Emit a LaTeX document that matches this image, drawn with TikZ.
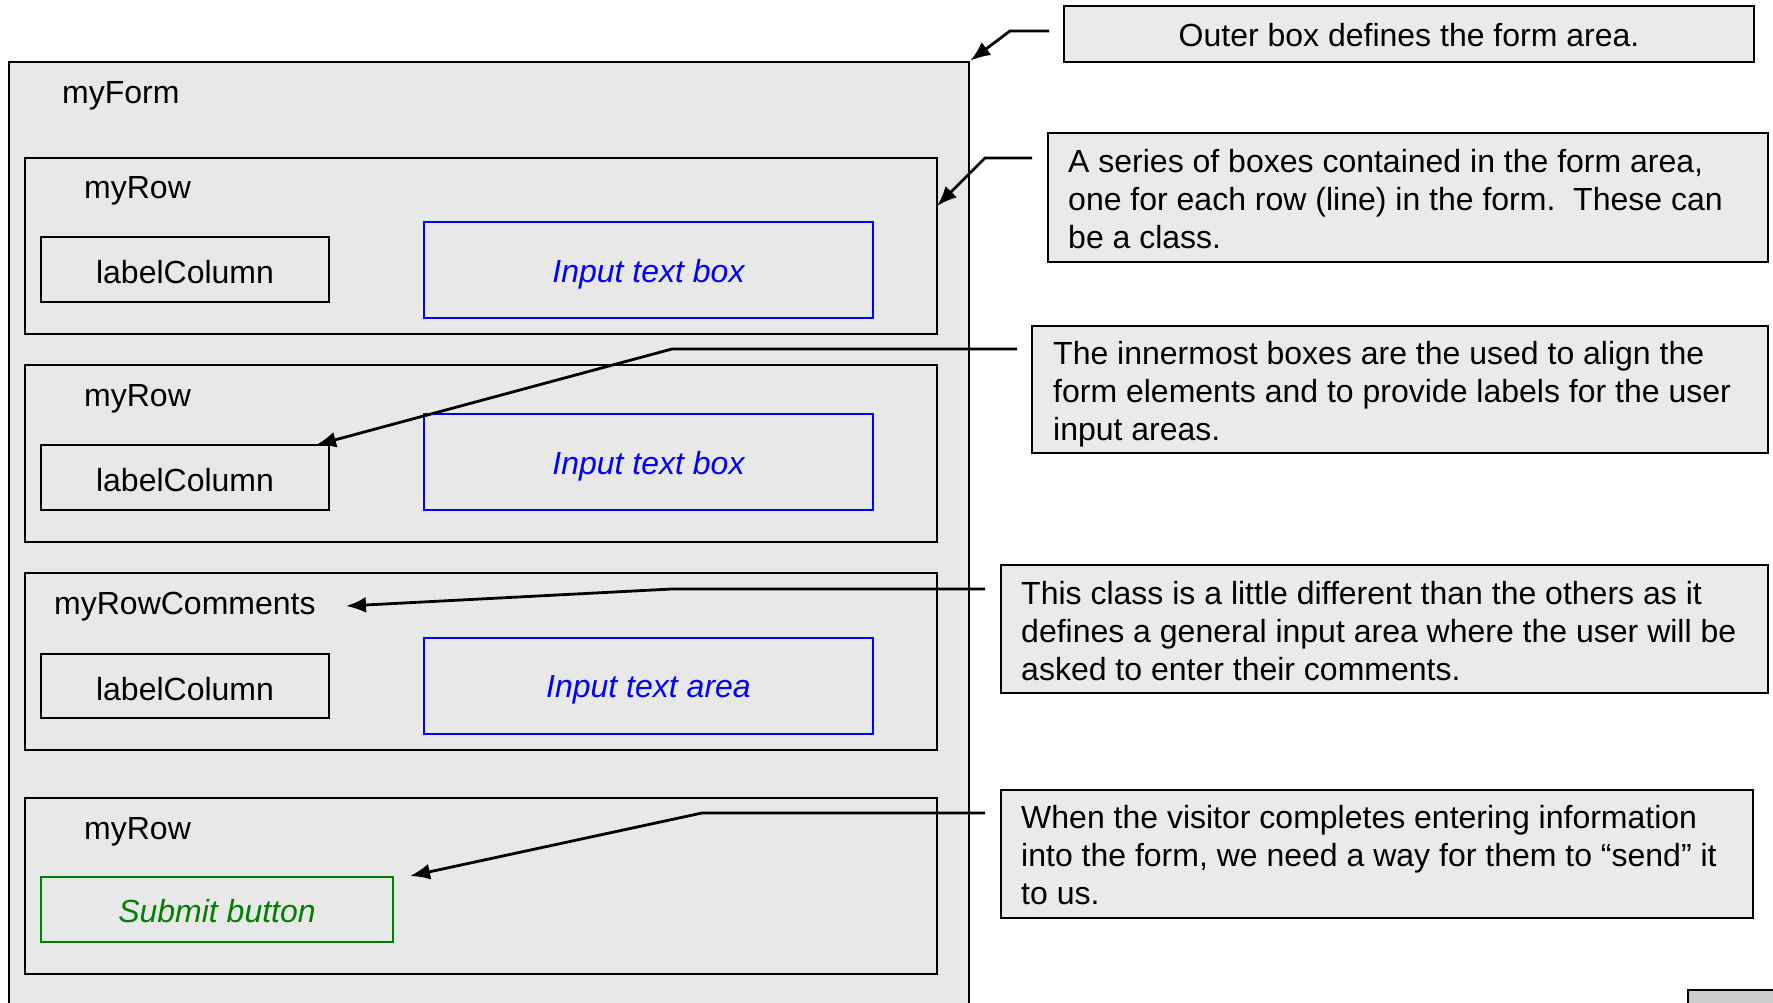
\documentclass[tikz,border=0pt]{standalone}
\usepackage{fontspec}
\setmainfont{Liberation Sans}
\usetikzlibrary{arrows.meta,fit}
\definecolor{panel}{HTML}{E8E8E8}
\definecolor{notefill}{HTML}{EAEAEA}
\definecolor{inputblue}{HTML}{0000FF}
\definecolor{btngreen}{HTML}{008000}
\definecolor{cornerfill}{HTML}{CCCCCC}

\begin{document}
\begin{tikzpicture}[x=1pt,y=-1pt,
  every node/.style={font=\fontsize{32pt}{38pt}\selectfont},
  frame/.style={draw=black, line width=2.7pt, fill=panel, inner sep=0pt, fit={#1}},
  inputbox/.style={draw=inputblue, line width=2.9pt, fill=panel, inner sep=0pt, fit={#1}},
  buttonbox/.style={draw=btngreen, line width=2.9pt, fill=panel, inner sep=0pt, fit={#1}},
  notebox/.style={draw=black, line width=2.7pt, fill=notefill, inner sep=0pt, fit={#1}},
  tag/.style={anchor=west, inner sep=0pt},
  cellt/.style={inner sep=0pt, yshift=-3pt},
  inputt/.style={inner sep=0pt, yshift=-4pt, text=inputblue, font=\fontsize{32pt}{38pt}\selectfont\itshape},
  buttont/.style={inner sep=0pt, yshift=-2pt, text=btngreen, font=\fontsize{32pt}{38pt}\selectfont\itshape},
  notet/.style={anchor=west, inner sep=0pt, align=left},
  conn/.style={draw=black, line width=2.8pt, line join=miter, -{Latex[length=20pt,width=16pt]}}
]
\clip (0,0) rectangle (1773,1003);
\fill[white] (0,0) rectangle (1773,1003);

% form area
\node[frame={(9,62)(969,1020)}] (form) {};
\node[tag] (formt) at (62,96) {myForm};

% row 1
\node[frame={(25,158)(937,334)}] (row1) {};
\node[tag] (row1t) at (84,191) {myRow};
\node[frame={(41,237)(329,302)}] (lab1) {};
\node[cellt] (lab1t) at (lab1.center) {labelColumn};
\node[inputbox={(424,222)(873,318)}] (in1) {};
\node[inputt] (in1t) at (in1.center) {Input text box};

% row 2
\node[frame={(25,365)(937,542)}] (row2) {};
\node[tag] (row2t) at (84,399) {myRow};
\node[frame={(41,445)(329,510)}] (lab2) {};
\node[cellt] (lab2t) at (lab2.center) {labelColumn};
\node[inputbox={(424,414)(873,510)}] (in2) {};
\node[inputt] (in2t) at (in2.center) {Input text box};

% comments row
\node[frame={(25,573)(937,750)}] (row3) {};
\node[tag] (row3t) at (54,607) {myRowComments};
\node[frame={(41,654)(329,718)}] (lab3) {};
\node[cellt] (lab3t) at (lab3.center) {labelColumn};
\node[inputbox={(424,638)(873,734)}] (in3) {};
\node[inputt] (in3t) at (in3.center) {Input text area};

% submit row
\node[frame={(25,798)(937,974)}] (row4) {};
\node[tag] (row4t) at (84,832) {myRow};
\node[buttonbox={(41,877)(393,942)}] (btn) {};
\node[buttont] (btnt) at (btn.center) {Submit button};

% notes
\node[notebox={(1064,6)(1754,62)}] (n1) {};
\node[cellt, yshift=2pt] (n1t) at (n1.center) {Outer box defines the form area.};

\node[notebox={(1048,133)(1768,262)}] (n2) {};
\node[notet] (n2t) at (1068,199) {A series of boxes contained in the form area,\\one for each row (line) in the form.\ \ These can\\be a class.};

\node[notebox={(1032,326)(1768,453)}] (n3) {};
\node[notet] (n3t) at (1053,394) {The innermost boxes are the used to align the\\form elements and to provide labels for the user\\input areas.};

\node[notebox={(1001,565)(1768,693)}] (n4) {};
\node[notet] (n4t) at (1021,631) {This class is a little different than the others as it\\defines a general input area where the user will be\\asked to enter their comments.};

\node[notebox={(1001,790)(1753,918)}] (n5) {};
\node[notet] (n5t) at (1021,855) {When the visitor completes entering information\\into the form, we need a way for them to “send” it\\to us.};

% corner tab
\filldraw[fill=cornerfill, draw=black, line width=2.7pt] (1688,990) rectangle (1790,1020);

% leader lines
\coordinate (s1) at (1049,31);  \coordinate (b1) at (1010,31);  \coordinate (t1) at (form.north east);
\coordinate (s2) at (1032,158); \coordinate (b2) at (985,158);  \coordinate (t2) at (937,206);
\coordinate (s3) at (1017,349); \coordinate (b3) at (672,349);  \coordinate (t3) at (316,445);
\coordinate (s4) at (985,589);  \coordinate (b4) at (672,589);  \coordinate (t4) at (346,606);
\coordinate (s5) at (985,813);  \coordinate (b5) at (702,813);  \coordinate (t5) at (410,876);

\draw[conn] (s1) -- (b1) -- (t1);
\draw[conn] (s2) -- (b2) -- (t2);
\draw[conn] (s3) -- (b3) -- (t3);
\draw[conn] (s4) -- (b4) -- (t4);
\draw[conn] (s5) -- (b5) -- (t5);
\end{tikzpicture}
\end{document}
